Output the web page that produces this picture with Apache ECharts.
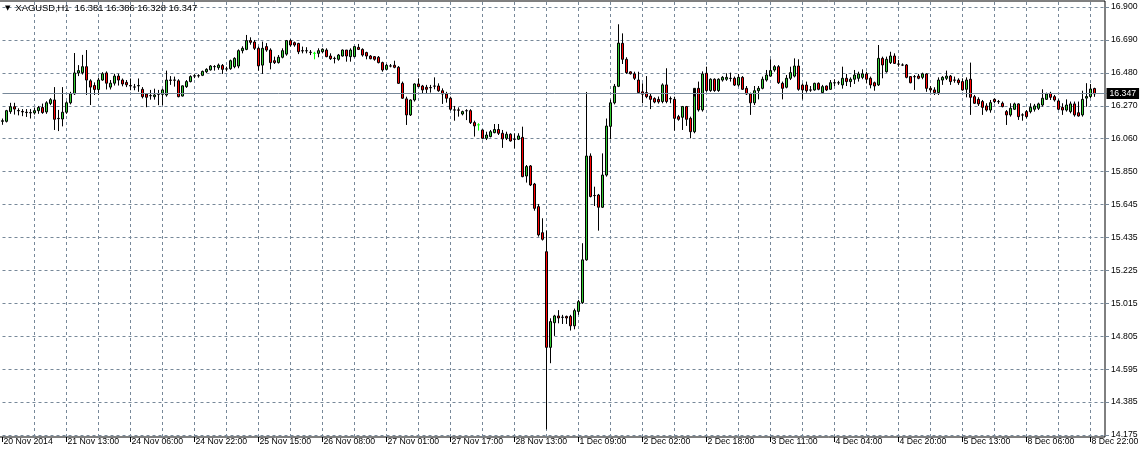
<!DOCTYPE html>
<html><head><meta charset="utf-8">
<script src="https://cdn.jsdelivr.net/npm/echarts@6/dist/echarts.min.js"></script>
<style>html,body{margin:0;padding:0;background:#fff;}#c{width:1148px;height:458px;}</style>
</head><body><div id="c"></div>
<script>
const symbolName = 'XAGUSD,H1';
const openP = [16.172,16.172,16.234,16.265,16.241,16.235,16.230,16.228,16.226,16.240,16.260,16.232,16.286,16.308,16.191,16.187,16.230,16.290,16.347,16.480,
16.482,16.520,16.430,16.400,16.375,16.435,16.480,16.390,16.415,16.460,16.435,16.420,16.400,16.391,16.398,16.376,16.346,16.336,16.329,16.344,
16.344,16.340,16.435,16.435,16.430,16.333,16.393,16.425,16.460,16.462,16.465,16.488,16.500,16.520,16.514,16.528,16.506,16.507,16.520,16.524,
16.622,16.630,16.686,16.677,16.637,16.530,16.648,16.626,16.558,16.546,16.580,16.600,16.686,16.673,16.668,16.622,16.622,16.612,16.605,16.605,
16.615,16.626,16.588,16.573,16.567,16.588,16.626,16.584,16.584,16.643,16.630,16.610,16.588,16.584,16.580,16.546,16.503,16.525,16.529,16.516,
16.414,16.315,16.213,16.308,16.410,16.397,16.389,16.387,16.397,16.397,16.367,16.346,16.319,16.245,16.245,16.219,16.240,16.240,16.164,16.150,
16.117,16.064,16.075,16.100,16.120,16.096,16.064,16.090,16.058,16.058,16.070,15.824,15.888,15.773,15.629,15.463,15.342,14.733,14.890,14.933,
14.925,14.930,14.930,14.870,14.962,15.018,15.290,15.951,15.700,15.703,15.625,15.830,16.140,16.290,16.395,16.669,16.567,16.487,16.474,16.435,
16.360,16.355,16.333,16.317,16.312,16.298,16.404,16.317,16.312,16.202,16.198,16.266,16.191,16.106,16.382,16.245,16.478,16.368,16.440,16.368,
16.435,16.440,16.446,16.446,16.403,16.452,16.382,16.346,16.290,16.367,16.382,16.435,16.460,16.499,16.520,16.414,16.389,16.446,16.460,16.524,
16.403,16.403,16.372,16.372,16.414,16.355,16.397,16.376,16.418,16.418,16.404,16.446,16.425,16.440,16.446,16.452,16.474,16.446,16.418,16.404,
16.573,16.488,16.546,16.588,16.537,16.531,16.531,16.457,16.457,16.460,16.452,16.474,16.382,16.372,16.355,16.435,16.446,16.460,16.435,16.435,
16.425,16.376,16.440,16.329,16.312,16.298,16.270,16.244,16.312,16.298,16.287,16.234,16.213,16.249,16.283,16.213,16.234,16.234,16.249,16.255,
16.276,16.312,16.350,16.329,16.302,16.261,16.244,16.234,16.283,16.227,16.213,16.320,16.330,16.381];
const highP = [16.190,16.245,16.290,16.290,16.255,16.250,16.250,16.250,16.260,16.270,16.285,16.300,16.320,16.390,16.245,16.390,16.300,16.360,16.607,16.530,
16.595,16.626,16.440,16.420,16.450,16.485,16.490,16.435,16.475,16.475,16.445,16.435,16.445,16.410,16.445,16.390,16.350,16.372,16.380,16.372,
16.380,16.495,16.460,16.457,16.440,16.400,16.435,16.465,16.472,16.472,16.495,16.510,16.530,16.530,16.540,16.537,16.520,16.565,16.580,16.630,
16.650,16.722,16.707,16.690,16.648,16.680,16.670,16.637,16.584,16.594,16.637,16.690,16.695,16.680,16.672,16.648,16.644,16.626,16.615,16.637,
16.637,16.637,16.605,16.584,16.601,16.630,16.626,16.637,16.652,16.665,16.637,16.615,16.594,16.588,16.588,16.552,16.537,16.537,16.558,16.524,
16.425,16.329,16.312,16.414,16.446,16.404,16.404,16.404,16.452,16.414,16.382,16.360,16.329,16.270,16.261,16.240,16.249,16.249,16.176,16.160,
16.120,16.106,16.117,16.155,16.155,16.117,16.106,16.096,16.096,16.096,16.138,15.894,15.894,15.780,15.646,15.555,15.476,14.918,14.940,14.970,
14.940,14.935,14.940,14.980,15.035,15.396,16.359,15.968,15.756,15.710,15.968,16.190,16.310,16.410,16.790,16.732,16.580,16.490,16.488,16.488,
16.414,16.460,16.350,16.325,16.330,16.414,16.510,16.330,16.329,16.213,16.270,16.270,16.202,16.330,16.425,16.490,16.520,16.446,16.446,16.446,
16.460,16.478,16.482,16.457,16.474,16.460,16.397,16.355,16.397,16.397,16.457,16.499,16.567,16.530,16.530,16.425,16.467,16.520,16.573,16.567,
16.414,16.425,16.397,16.418,16.420,16.404,16.400,16.435,16.440,16.430,16.520,16.474,16.452,16.499,16.488,16.503,16.488,16.457,16.425,16.658,
16.584,16.584,16.615,16.605,16.563,16.541,16.537,16.460,16.467,16.474,16.482,16.478,16.397,16.389,16.452,16.460,16.495,16.467,16.457,16.446,
16.446,16.452,16.546,16.340,16.325,16.308,16.287,16.308,16.319,16.308,16.298,16.244,16.287,16.291,16.287,16.223,16.244,16.287,16.283,16.291,
16.376,16.355,16.360,16.340,16.312,16.287,16.312,16.298,16.298,16.298,16.367,16.415,16.410,16.386];
const lowP = [16.150,16.165,16.220,16.215,16.210,16.205,16.200,16.190,16.215,16.220,16.220,16.220,16.275,16.117,16.110,16.140,16.220,16.280,16.340,16.460,
16.470,16.340,16.276,16.340,16.340,16.430,16.375,16.375,16.400,16.400,16.395,16.390,16.370,16.370,16.360,16.318,16.262,16.310,16.310,16.275,
16.275,16.329,16.404,16.393,16.325,16.330,16.385,16.420,16.447,16.450,16.460,16.480,16.495,16.495,16.500,16.474,16.490,16.500,16.510,16.510,
16.605,16.625,16.660,16.626,16.495,16.474,16.615,16.503,16.537,16.540,16.573,16.590,16.648,16.647,16.600,16.605,16.605,16.594,16.567,16.580,
16.605,16.580,16.563,16.541,16.558,16.584,16.552,16.552,16.580,16.626,16.584,16.567,16.567,16.558,16.541,16.488,16.499,16.516,16.510,16.410,
16.315,16.149,16.206,16.298,16.389,16.346,16.350,16.355,16.376,16.360,16.283,16.291,16.240,16.176,16.202,16.210,16.180,16.155,16.075,16.113,
16.058,16.053,16.070,16.096,16.085,16.003,16.053,16.043,16.000,16.053,15.816,15.782,15.760,15.603,15.438,15.413,14.211,14.632,14.806,14.886,
14.882,14.882,14.840,14.848,14.940,15.010,15.285,15.688,15.633,15.476,15.620,15.820,16.058,16.280,16.390,16.537,16.474,16.470,16.435,16.350,
16.287,16.319,16.250,16.287,16.285,16.287,16.287,16.287,16.113,16.176,16.117,16.143,16.064,16.096,16.234,16.234,16.360,16.360,16.360,16.360,
16.425,16.430,16.425,16.397,16.393,16.372,16.340,16.213,16.276,16.312,16.376,16.425,16.457,16.488,16.410,16.312,16.382,16.435,16.452,16.367,
16.312,16.355,16.360,16.367,16.370,16.346,16.365,16.372,16.397,16.404,16.380,16.397,16.390,16.410,16.425,16.440,16.414,16.382,16.367,16.397,
16.446,16.482,16.537,16.537,16.520,16.524,16.446,16.414,16.372,16.440,16.440,16.360,16.355,16.340,16.340,16.404,16.435,16.404,16.418,16.404,
16.367,16.325,16.213,16.283,16.270,16.213,16.234,16.227,16.287,16.283,16.261,16.149,16.202,16.244,16.181,16.176,16.191,16.223,16.234,16.244,
16.266,16.308,16.308,16.298,16.244,16.213,16.234,16.223,16.202,16.202,16.202,16.265,16.320,16.328];
const closeP = [16.176,16.240,16.265,16.250,16.239,16.232,16.228,16.226,16.240,16.260,16.228,16.290,16.310,16.185,16.189,16.230,16.290,16.347,16.480,16.495,
16.520,16.435,16.390,16.375,16.435,16.475,16.415,16.415,16.460,16.435,16.410,16.405,16.397,16.390,16.400,16.329,16.325,16.335,16.340,16.345,
16.372,16.435,16.433,16.434,16.329,16.398,16.425,16.457,16.462,16.463,16.490,16.503,16.524,16.521,16.530,16.503,16.505,16.558,16.573,16.622,
16.637,16.686,16.675,16.637,16.525,16.637,16.626,16.546,16.546,16.580,16.622,16.686,16.658,16.658,16.615,16.620,16.621,16.611,16.605,16.622,
16.631,16.584,16.571,16.572,16.594,16.626,16.588,16.626,16.648,16.630,16.594,16.588,16.571,16.567,16.546,16.499,16.529,16.524,16.516,16.414,
16.319,16.213,16.308,16.410,16.393,16.372,16.376,16.386,16.396,16.367,16.346,16.319,16.249,16.244,16.243,16.234,16.239,16.164,16.143,16.150,
16.064,16.085,16.106,16.120,16.096,16.060,16.090,16.047,16.057,16.079,15.820,15.884,15.767,15.618,15.449,15.421,14.733,14.897,14.933,14.920,
14.924,14.920,14.870,14.967,15.024,15.290,15.951,15.693,15.699,15.625,15.830,16.142,16.290,16.395,16.670,16.567,16.482,16.475,16.446,16.355,
16.345,16.329,16.312,16.295,16.296,16.404,16.298,16.315,16.191,16.185,16.266,16.185,16.106,16.382,16.245,16.474,16.368,16.440,16.368,16.440,
16.452,16.452,16.445,16.403,16.452,16.376,16.346,16.290,16.367,16.382,16.440,16.467,16.495,16.520,16.418,16.382,16.446,16.482,16.524,16.376,
16.372,16.367,16.371,16.414,16.376,16.393,16.372,16.418,16.417,16.417,16.446,16.425,16.440,16.467,16.474,16.474,16.440,16.404,16.397,16.573,
16.531,16.567,16.588,16.541,16.536,16.530,16.452,16.418,16.456,16.446,16.474,16.382,16.372,16.355,16.435,16.452,16.460,16.425,16.434,16.418,
16.372,16.435,16.325,16.287,16.283,16.261,16.244,16.291,16.298,16.297,16.266,16.213,16.255,16.283,16.202,16.212,16.202,16.261,16.270,16.283,
16.319,16.346,16.325,16.308,16.249,16.244,16.276,16.283,16.213,16.206,16.312,16.330,16.378,16.347];
const xTickLabels = ['20 Nov 2014','21 Nov 13:00','24 Nov 06:00','24 Nov 22:00','25 Nov 15:00','26 Nov 08:00','27 Nov 01:00','27 Nov 17:00','28 Nov 13:00','1 Dec 09:00','2 Dec 02:00','2 Dec 18:00','3 Dec 11:00','4 Dec 04:00','4 Dec 20:00','5 Dec 13:00','8 Dec 06:00','8 Dec 22:00'];
const yTickLabels = ['14.175','14.385','14.595','14.805','15.015','15.225','15.435','15.645','15.850','16.060','16.270','16.480','16.690','16.900'];
const yMin = 14.175, yMax = 16.900;

const n = openP.length;
const nCat = n + 3;
const cats = Array.from({length: nCat}, (_, i) => String(i));
const lime = '#00ff00';
const candles = openP.map((o, i) => {
  const item = {value: [o, closeP[i], lowP[i], highP[i]]};
  if (o === closeP[i]) item.itemStyle = {color: lime, color0: lime, borderColor: lime, borderColor0: lime};
  return item;
});
const last = n - 1;
const lastPrice = closeP[last];
const font = '"Liberation Sans", Arial, sans-serif';
const gridColor = '#778899';
const dash = [3, 3];

const chart = echarts.init(document.getElementById('c'), null, {renderer: 'canvas'});
chart.setOption({
  animation: false,
  backgroundColor: '#ffffff',
  title: {
    text: '{t|▼}' + symbolName + '  ' + [openP[last], highP[last], lowP[last], closeP[last]].map(v => v.toFixed(3)).join(' '),
    left: 4, top: 4, padding: 0,
    textStyle: {fontFamily: font, fontSize: 9.4, fontWeight: 'normal', color: '#000',
      rich: {t: {fontSize: 7, color: '#000', padding: [0, 5, 0, 1], fontFamily: 'DejaVu Sans'}}}
  },
  grid: [
    {left: 2.5, right: 41.5, top: 7, bottom: 23, outerBoundsMode: 'none', containLabel: false},
    {left: 2.5, right: 41.5, top: 2, bottom: 21, outerBoundsMode: 'none', containLabel: false},
    {left: -2, right: 43, top: 1, bottom: 21, show: true, borderColor: '#000', borderWidth: 1, backgroundColor: 'transparent', outerBoundsMode: 'none', containLabel: false}
  ],
  xAxis: [
    {type: 'category', gridIndex: 0, data: cats, boundaryGap: false, offset: 2,
      axisLine: {show: false},
      axisTick: {show: true, interval: (i) => i % 16 === 0 && i < n, length: 5, lineStyle: {color: '#000'}},
      axisLabel: {interval: (i) => i % 16 === 0 && i < n, formatter: (v, i) => xTickLabels[i / 16] || '',
        align: 'left', margin: 0, padding: [0, 0, 0, 1], fontFamily: font, fontSize: 8.7, color: '#000', hideOverlap: false},
      splitLine: {show: false}},
    {type: 'category', gridIndex: 1, data: cats, boundaryGap: false,
      axisLine: {show: false}, axisTick: {show: false}, axisLabel: {show: false},
      splitLine: {show: true, interval: (i) => i > 0 && i % 8 === 0, lineStyle: {color: gridColor, type: dash, width: 1}}},
    {type: 'category', gridIndex: 2, data: cats, show: false}
  ],
  yAxis: [
    {type: 'value', gridIndex: 0, position: 'right', min: yMin, max: yMax, interval: (yMax - yMin) / 13, offset: -1.5,
      axisLine: {show: false},
      axisTick: {show: true, length: 4, lineStyle: {color: gridColor}},
      axisLabel: {formatter: (v, i) => yTickLabels[i] || '', margin: 6, fontFamily: font, fontSize: 8.7, color: '#000', hideOverlap: false},
      splitLine: {show: true, lineStyle: {color: gridColor, type: dash, width: 1}}},
    {type: 'value', gridIndex: 1, show: false},
    {type: 'value', gridIndex: 2, show: false}
  ],
  series: [{
    type: 'candlestick', xAxisIndex: 0, yAxisIndex: 0, data: candles, barWidth: 2, clip: false,
    itemStyle: {color: '#32cd32', color0: '#ff0000', borderColor: '#000', borderColor0: '#000', borderWidth: 1},
    markLine: {
      symbol: ['none', 'none'], silent: true, animation: false,
      data: [{yAxis: lastPrice}],
      lineStyle: {color: gridColor, type: 'solid', width: 1},
      label: {show: true, position: 'end', distance: 0, formatter: lastPrice.toFixed(3),
        backgroundColor: '#000', color: '#fff', fontFamily: font, fontSize: 8.7, padding: [1, 3, 1, 3]}
    }
  }]
});
</script></body></html>
